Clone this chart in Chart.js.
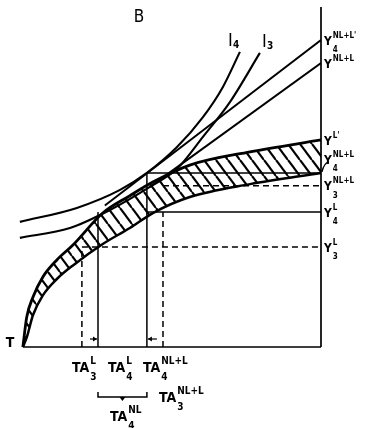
<!DOCTYPE html>
<html>
<head>
<meta charset="utf-8">
<script src="https://cdn.jsdelivr.net/npm/chart.js@4"></script>
<style>
  body { margin: 0; background: #fff; }
</style>
</head>
<body>
<canvas id="grafico" width="371" height="428"></canvas>
<script>
// Valores (TA en 0..100, Y en 0..100)
const bandX = [0, 1.3, 3.4, 6.7, 11.4, 16.8, 26.8, 35.9, 43.6, 56, 76.2, 100];
const bandUpper = [0, 8.8, 14.7, 20.6, 25.6, 30.0, 39.4, 44.5, 48.5, 53.5, 57.4, 60.9];
const bandLower = [0, 2.8, 9.4, 15.2, 20.0, 24.0, 30.3, 35.0, 39.4, 44.1, 47.9, 51.2];

const i4X = [-1, 18.1, 32.6, 41.6, 51.7, 60.4, 67.1, 72.8];
const i4Y = [36.8, 40.9, 46.2, 51.2, 58.8, 67.6, 76.5, 86.8];
const i3X = [-1, 15.8, 29.2, 42.6, 51.7, 60.4, 69.5, 79.5];
const i3Y = [32.1, 35.0, 40.3, 47.1, 52.4, 61.8, 72.1, 86.5];

const lineNLLpX = [27.5, 100];
const lineNLLpY = [41.6, 90.3];
const lineNLLX = [42.6, 100];
const lineNLLY = [47.1, 83.5];

// TA3^L, TA4^L, TA4^NL+L, TA3^NL+L
const taValues = [19.8, 25.2, 41.6, 47.0];
// Y4^NL+L', Y^NL+L, Y^L', Y4^NL+L, Y3^NL+L, Y4^L, Y3^L
const yValues = [90.3, 83.5, 60.9, 51.2, 47.4, 39.7, 29.4];
const ySup = ["NL+L'", 'NL+L', "L'", 'NL+L', 'NL+L', 'L', 'L'];
const ySub = ['4', '', '', '4', '3', '4', '3'];

const FONT = "'Liberation Sans Narrow', 'DejaVu Sans Condensed', 'Liberation Sans', sans-serif";

const pts = (xs, ys) => xs.map((x, i) => ({ x: x, y: ys[i] }));

// patrón rayado de la banda
function hatch() {
    const c = document.createElement('canvas');
    const w = 12, h = 16;
    c.width = w; c.height = h;
    const g = c.getContext('2d');
    g.strokeStyle = '#000';
    g.lineWidth = 2.2;
    for (let k = -1; k <= 1; k++) {
        g.beginPath();
        g.moveTo(k * w, 0);
        g.lineTo(k * w + w, h);
        g.stroke();
    }
    return g.createPattern(c, 'repeat');
}

const [ta3L, ta4L, ta4NLL, ta3NLL] = taValues;
const [, , , y4NLL, y3NLL, y4L, y3L] = yValues;

const guide = (data, dashed, width) => ({
    data: data,
    borderColor: '#000',
    borderWidth: width || 1.5,
    borderDash: dashed ? [6, 4] : [],
    pointRadius: 0,
    tension: 0,
    fill: false
});

const curve = (data, width) => ({
    data: data,
    borderColor: '#000',
    borderWidth: width,
    pointRadius: 0,
    cubicInterpolationMode: 'monotone',
    fill: false
});

function richLabel(ctx, left, cy, base, sup, sub, size, subOff) {
    ctx.textBaseline = 'middle';
    ctx.textAlign = 'left';
    ctx.font = 'bold ' + size + 'px ' + FONT;
    ctx.fillText(base, left, cy);
    const w = ctx.measureText(base).width;
    ctx.font = 'bold ' + Math.round(size * 0.7) + 'px ' + FONT;
    if (sup) ctx.fillText(sup, left + w + 1, cy - size * 0.5);
    if (sub) ctx.fillText(sub, left + w + 1, cy + (subOff !== undefined ? subOff : size * 0.68));
}

function arrow(ctx, x1, x2, y) {
    ctx.beginPath();
    ctx.moveTo(x1, y);
    ctx.lineTo(x2, y);
    ctx.stroke();
    const d = Math.sign(x2 - x1);
    ctx.beginPath();
    ctx.moveTo(x2, y);
    ctx.lineTo(x2 - d * 4, y - 2.5);
    ctx.lineTo(x2 - d * 4, y + 2.5);
    ctx.closePath();
    ctx.fill();
}

const etiquetas = {
    id: 'etiquetas',
    afterDraw(chart) {
        const ctx = chart.ctx;
        const xs = chart.scales.x, ys = chart.scales.y;
        const X = v => xs.getPixelForValue(v);
        const Y = v => ys.getPixelForValue(v);
        const area = chart.chartArea;
        ctx.save();
        ctx.strokeStyle = '#000';
        ctx.fillStyle = '#000';

        // ejes
        ctx.lineWidth = 1.7;
        ctx.beginPath();
        ctx.moveTo(X(0), Y(0));
        ctx.lineTo(X(100), Y(0));
        ctx.moveTo(X(100), Y(0));
        ctx.lineTo(X(100), area.top);
        ctx.stroke();

        // flechas pequeñas
        ctx.lineWidth = 1.2;
        arrow(ctx, (X(ta3L) + X(ta4L)) / 2, X(ta4L) - 1, Y(0) - 8);
        arrow(ctx, (X(ta4NLL) + X(ta3NLL)) / 2 + 2, X(ta4NLL) + 1, Y(0) - 8);

        // etiquetas del eje derecho
        yValues.forEach((v, i) => {
            let cy = Y(v) + 1.5;
            if (i === 3) cy = Y(v) - 12;
            richLabel(ctx, X(100) + 3, cy, 'Y', ySup[i], ySub[i], 12);
        });
        // guion de Y4^NL+L
        ctx.lineWidth = 1.4;
        ctx.beginPath();
        ctx.moveTo(X(100) + 1, Y(y4NLL) - 1);
        ctx.quadraticCurveTo(X(100) + 3, Y(y4NLL) - 10, X(100) + 8, Y(y4NLL) - 11);
        ctx.stroke();

        // etiquetas del eje inferior
        const by = Y(0) + 21;
        richLabel(ctx, X(ta3L) - 10, by, 'TA', 'L', '3', 14);
        richLabel(ctx, X(ta4L) + 10, by, 'TA', 'L', '4', 14);
        richLabel(ctx, X(ta4NLL) - 4, by, 'TA', 'NL+L', '4', 14);
        richLabel(ctx, X(ta3NLL) - 4, by + 30, 'TA', 'NL+L', '3', 14);

        // llave TA4^NL
        const ky = Y(0) + 50;
        ctx.lineWidth = 1.5;
        ctx.beginPath();
        ctx.moveTo(X(ta4L), ky - 5);
        ctx.lineTo(X(ta4L), ky);
        ctx.lineTo(X(ta4NLL), ky);
        ctx.lineTo(X(ta4NLL), ky - 5);
        ctx.stroke();
        const mx = (X(ta4L) + X(ta4NLL)) / 2;
        ctx.beginPath();
        ctx.moveTo(mx - 3, ky);
        ctx.lineTo(mx + 3, ky);
        ctx.lineTo(mx, ky + 4);
        ctx.closePath();
        ctx.fill();
        richLabel(ctx, X(ta4L) + 12, ky + 20, 'TA', 'NL', '4', 14);

        // T en el origen
        ctx.font = 'bold 14px ' + FONT;
        ctx.textBaseline = 'middle';
        ctx.fillText('T', X(0) - 17, Y(0) - 4);

        // curvas de indiferencia
        const e4 = i4X.length - 1, e3 = i3X.length - 1;
        ctx.save();
        ctx.font = '18px ' + FONT;
        ctx.fillText('I', X(i4X[e4]) - 12, Y(i4Y[e4]) - 11);
        ctx.fillText('I', X(i3X[e3]) + 2, Y(i3Y[e3]) - 11);
        ctx.font = 'bold 10px ' + FONT;
        ctx.fillText('4', X(i4X[e4]) - 7, Y(i4Y[e4]) - 6);
        ctx.fillText('3', X(i3X[e3]) + 7, Y(i3Y[e3]) - 6);
        ctx.restore();

        // título
        ctx.font = '17px ' + FONT;
        ctx.textAlign = 'center';
        ctx.textBaseline = 'middle';
        ctx.fillText('B', 139, 18);
        ctx.restore();
    }
};

new Chart(document.getElementById('grafico'), {
    type: 'line',
    data: {
        datasets: [
            {
                data: pts(bandX, bandUpper),
                borderColor: '#000',
                borderWidth: 2.8,
                pointRadius: 0,
                cubicInterpolationMode: 'monotone',
                backgroundColor: hatch(),
                fill: '+1'
            },
            curve(pts(bandX, bandLower), 2.5),
            curve(pts(i4X, i4Y), 2.1),
            curve(pts(i3X, i3Y), 2.1),
            guide(pts(lineNLLpX, lineNLLpY), false, 2),
            guide(pts(lineNLLX, lineNLLY), false, 2),
            guide([{ x: ta3L, y: 0 }, { x: ta3L, y: y3L }, { x: 100, y: y3L }], true),
            guide([{ x: ta4L, y: 0 }, { x: ta4L, y: y4L }], false),
            guide([{ x: ta4NLL, y: y4L }, { x: 100, y: y4L }], false),
            guide([{ x: ta4NLL, y: 0 }, { x: ta4NLL, y: y4NLL }, { x: 100, y: y4NLL }], false),
            guide([{ x: ta3NLL, y: 0 }, { x: ta3NLL, y: y4L }], true),
            guide([{ x: ta3NLL, y: y3NLL }, { x: 100, y: y3NLL }], true)
        ]
    },
    options: {
        responsive: false,
        animation: false,
        layout: { padding: { left: 2, right: 50, top: 7, bottom: 81 } },
        scales: {
            x: { type: 'linear', min: -7, max: 100, display: false },
            y: { type: 'linear', min: 0, max: 100, display: false }
        },
        plugins: {
            legend: { display: false },
            tooltip: { enabled: false }
        }
    },
    plugins: [etiquetas]
});
</script>
</body>
</html>
